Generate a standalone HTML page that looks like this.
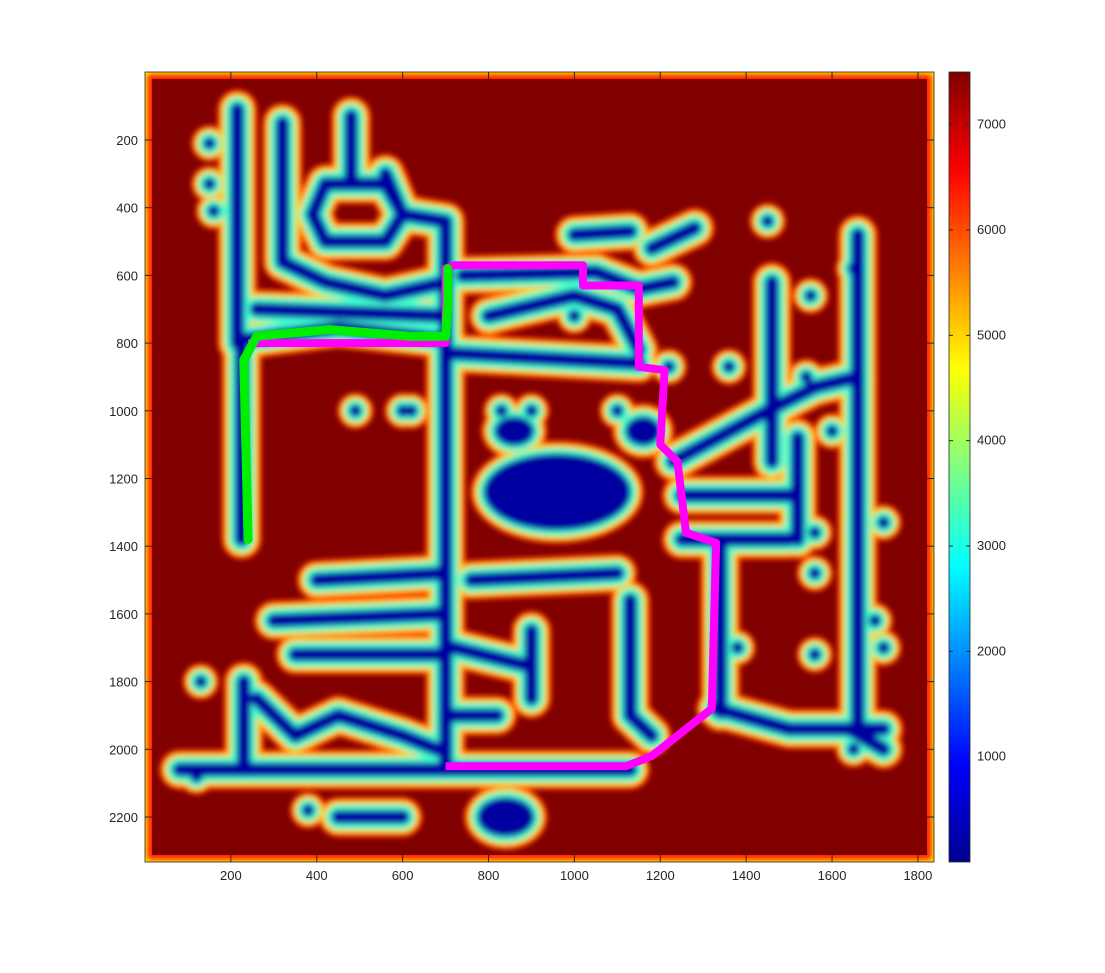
<!DOCTYPE html>
<html><head><meta charset="utf-8"><style>
body{margin:0;background:#fff;font-family:"Liberation Sans",sans-serif;}
svg text{font-family:"Liberation Sans",sans-serif;font-size:13px;fill:#262626;}
</style></head><body>
<svg id="chart" width="1105" height="968" xmlns="http://www.w3.org/2000/svg">
<defs>
<linearGradient id="jet" x1="0" y1="1" x2="0" y2="0">
<stop offset="0" stop-color="#00008f"/><stop offset="0.125" stop-color="#0000ff"/>
<stop offset="0.375" stop-color="#00ffff"/><stop offset="0.625" stop-color="#ffff00"/>
<stop offset="0.875" stop-color="#ff0000"/><stop offset="1" stop-color="#800000"/>
</linearGradient>
<clipPath id="clip"><rect x="145" y="72" width="789" height="790"/></clipPath>
<filter id="blur" x="-10%" y="-10%" width="120%" height="120%"><feGaussianBlur stdDeviation="3"/></filter>
</defs>
<g id="plot" clip-path="url(#clip)"></g>
<g id="axes"></g>
</svg>
<script>
const xTicks=[200,400,600,800,1000,1200,1400,1600,1800];
const yTicks=[200,400,600,800,1000,1200,1400,1600,1800,2000,2200];
const cbTicks=[1000,2000,3000,4000,5000,6000,7000];
const corridors=[
[[215,110],[215,800]],[[225,800],[225,1380]],[[230,790],[450,755],[700,790]],
[[700,570],[700,2060]],[[80,2060],[1130,2060]],[[230,1800],[230,2060]],
[[260,1850],[350,1960],[450,1900],[600,1960],[680,2000]],
[[320,150],[320,560],[420,620],[560,660],[700,620],[700,440],[600,420],[560,300]],
[[420,330],[560,330],[600,420],[560,500],[420,500],[390,420],[420,330]],
[[260,700],[700,720]],[[480,130],[480,330]],
[[740,600],[1050,590],[1150,640],[1230,620]],[[800,720],[1000,660],[1100,700],[1150,820]],
[[710,830],[1150,860]],[[1000,480],[1130,470]],[[1180,520],[1280,460]],
[[1130,1560],[1130,1900],[1180,1960]],[[1330,1880],[1500,1940],[1720,1940]],
[[1660,480],[1660,1950]],[[1340,1400],[1340,1890]],
[[1230,1150],[1450,1000],[1560,930],[1660,900]],[[1460,620],[1460,1150]],
[[1250,1250],[1500,1250]],[[1250,1380],[1500,1380]],[[1520,1080],[1520,1380]],
[[300,1620],[700,1600]],[[350,1720],[700,1720]],[[400,1500],[700,1480]],
[[700,1900],[820,1900]],[[720,1700],[880,1750]],[[450,2200],[600,2200]],
[[760,1500],[1100,1480]],[[1640,1940],[1720,2000]],[[900,1650],[900,1850]]
];
const blobs=[[960,1240,165,105],[840,2200,60,50],[1160,1060,35,35],[860,1060,40,35]];
const spots=[[150,210],[150,330],[160,410],[120,2080],[130,1800],[490,1000],[620,1000],[830,1000],[900,1000],[1100,1000],[1360,870],[1540,900],[1600,1060],[1560,1360],[1700,1620],[1720,1330],[1560,1480],[1720,1700],[1650,2000],[1560,1720],[1380,1700],[1450,440],[1650,580],[1550,660],[380,2180],[600,1000],[1220,870],[1000,720]];
const greenPath=[[240,1380],[230,850],[260,780],[430,760],[620,780],[700,780],[705,680],[705,580]];
const magentaPath=[[700,2050],[1120,2050],[1180,2020],[1320,1880],[1330,1390],[1260,1360],[1240,1150],[1200,1100],[1210,880],[1150,870],[1150,630],[1020,630],[1020,570],[720,570],[700,580],[700,800],[240,800]];

const X=v=>145+v*0.4294, Y=v=>72.3+v*0.3385;
const ns="http://www.w3.org/2000/svg";
const plot=document.getElementById('plot'), axes=document.getElementById('axes');
function mk(tag,at,parent){const e=document.createElementNS(ns,tag);for(const k in at)e.setAttribute(k,at[k]);parent.appendChild(e);return e;}
mk('rect',{x:145,y:72,width:789,height:790,fill:'#ffff00'},plot);
mk('rect',{x:147,y:74,width:785,height:786,fill:'#ff2000',filter:'url(#blur)'},plot);
const bg=mk('rect',{x:152,y:79,width:775,height:776,fill:'#800000'},plot);


const layer=mk('g',{filter:'url(#blur)'},plot);
const pal=[['#ff2000',40],['#ffd000',33],['#40ffd0',25],['#0000a0',14]];
pal.forEach(([c,w])=>{
 corridors.forEach(p=>{
  const l=mk('polyline',{points:p.map(q=>X(q[0])+','+Y(q[1])).join(' '),fill:'none',stroke:c,'stroke-width':w,'stroke-linecap':'round','stroke-linejoin':'round'},layer);
  
  
 });
 blobs.forEach(b=>{
  const e=mk('ellipse',{cx:X(b[0]),cy:Y(b[1]),rx:b[2]*0.4294+w/2-4,ry:b[3]*0.3385+w/2-4,fill:c},layer);
  
  
 });
 spots.forEach(s=>{
  const e=mk('circle',{cx:X(s[0]),cy:Y(s[1]),r:w/2.2,fill:c},layer);
  
  
 });
});
const mp=mk('polyline',{points:magentaPath.map(q=>X(q[0])+','+Y(q[1])).join(' '),fill:'none',stroke:'#ff00ff','stroke-width':8,'stroke-linejoin':'round'},plot);


const gp=mk('polyline',{points:greenPath.map(q=>X(q[0])+','+Y(q[1])).join(' '),fill:'none',stroke:'#00ee00','stroke-width':9,'stroke-linejoin':'round','stroke-linecap':'round'},plot);


const fr=mk('rect',{x:145,y:72,width:789,height:790,fill:'none',stroke:'#262626','stroke-width':0.8},axes);


xTicks.forEach(t=>{
 mk('line',{x1:X(t),x2:X(t),y1:862,y2:855,stroke:'#262626'},axes);
 mk('line',{x1:X(t),x2:X(t),y1:72,y2:79,stroke:'#262626'},axes);
 const tx=mk('text',{x:X(t),y:880,'text-anchor':'middle'},axes);tx.textContent=t;
 
 
});
yTicks.forEach(t=>{
 mk('line',{x1:145,x2:152,y1:Y(t),y2:Y(t),stroke:'#262626'},axes);
 mk('line',{x1:934,x2:927,y1:Y(t),y2:Y(t),stroke:'#262626'},axes);
 const tx=mk('text',{x:138,y:Y(t)+5,'text-anchor':'end'},axes);tx.textContent=t;
 
 
});
const cb=mk('rect',{x:949,y:72,width:21,height:790,fill:'url(#jet)',stroke:'#262626','stroke-width':0.8},axes);


const C=v=>862-v*790/7500;
cbTicks.forEach(t=>{
 mk('line',{x1:949,x2:953,y1:C(t),y2:C(t),stroke:'#262626'},axes);
 mk('line',{x1:970,x2:966,y1:C(t),y2:C(t),stroke:'#262626'},axes);
 const tx=mk('text',{x:977,y:C(t)+4,'font-size':'12'},axes);tx.textContent=t;
 
 
});
</script>
</body></html>
